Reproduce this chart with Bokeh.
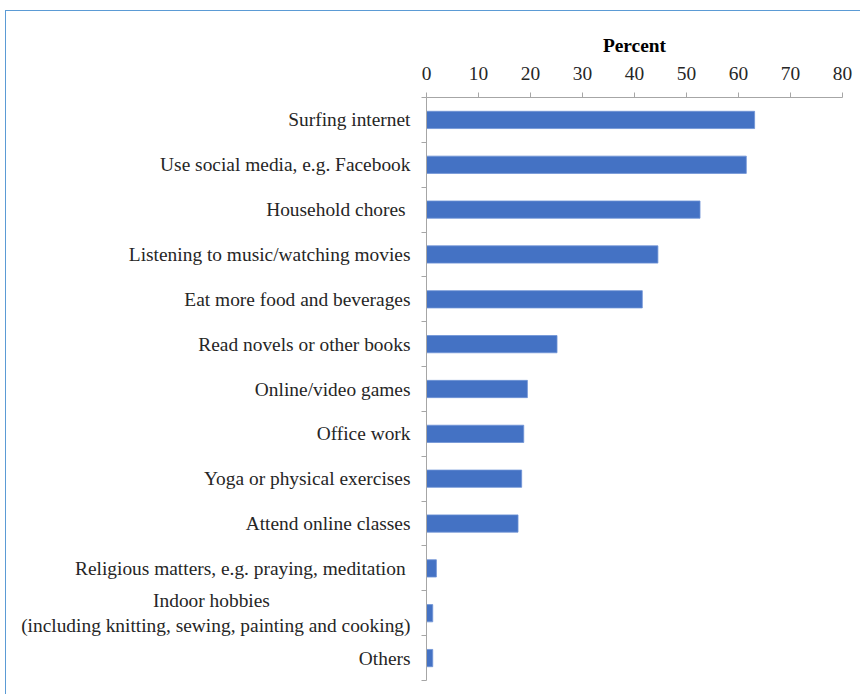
from bokeh.plotting import figure
from bokeh.models import Range1d, FixedTicker
from bokeh.embed import file_html
from bokeh.resources import INLINE

categories = [
    "Surfing internet",
    "Use social media, e.g. Facebook",
    "Household chores ",
    "Listening to music/watching movies",
    "Eat more food and beverages",
    "Read novels or other books",
    "Online/video games",
    "Office work",
    "Yoga or physical exercises",
    "Attend online classes",
    "Religious matters, e.g. praying, meditation ",
    "Indoor hobbies" + " " * 29 + "\n(including knitting, sewing, painting and cooking)",
    "Others",
]
percent = [63.1, 61.5, 52.6, 44.5, 41.5, 25.1, 19.4, 18.7, 18.3, 17.6, 1.9, 1.2, 1.2]
x_ticks = [0, 10, 20, 30, 40, 50, 60, 70, 80]

positions = list(range(1, len(categories) + 1))
FONT = "Liberation Serif"
FS = "19.4px"
AXIS_GRAY = "#a6a6a6"
TEXT = "#262626"

p = figure(width=855, height=684, output_backend="svg", toolbar_location=None,
           x_axis_location="above",
           x_range=Range1d(0, 80), y_range=Range1d(len(categories) + 0.5, 0.5),
           min_border_left=420, min_border_right=19, min_border_top=86,
           min_border_bottom=15)
p.styles = {"margin-left": "5px", "margin-top": "10px",
            "border-left": "1px solid #5b9bd5", "border-top": "1px solid #5b9bd5"}

p.hbar(y=positions, right=percent, left=0, height=0.385,
       fill_color="#4472c4", line_color="#6f93d6", line_width=0.8)

p.grid.visible = False
p.outline_line_color = None

xa = p.xaxis[0]
xa.ticker = FixedTicker(ticks=x_ticks)
xa.axis_label = "Percent"
xa.axis_label_text_font = FONT
xa.axis_label_text_font_style = "bold"
xa.axis_label_text_font_size = FS
xa.axis_label_text_color = "#000000"
xa.axis_label_standoff = 8
xa.major_label_text_font = FONT
xa.major_label_text_font_size = FS
xa.major_label_text_color = TEXT
xa.major_label_standoff = 13
xa.axis_line_color = AXIS_GRAY
xa.major_tick_line_color = AXIS_GRAY
xa.major_tick_out = 5
xa.major_tick_in = 0
xa.minor_tick_line_color = None

ya = p.yaxis[0]
ya.ticker = FixedTicker(ticks=positions,
                        minor_ticks=[i + 0.5 for i in range(0, len(categories) + 1)])
ya.major_label_overrides = {pos: lab for pos, lab in zip(positions, categories)}
ya.major_label_text_font = FONT
ya.major_label_text_font_size = FS
ya.major_label_text_color = TEXT
ya.major_label_standoff = 11
ya.axis_line_color = AXIS_GRAY
ya.major_tick_line_color = None
ya.major_tick_out = 0
ya.major_tick_in = 0
ya.minor_tick_line_color = AXIS_GRAY
ya.minor_tick_out = 5
ya.minor_tick_in = 0

open("out.html", "w").write(file_html(p, INLINE))
